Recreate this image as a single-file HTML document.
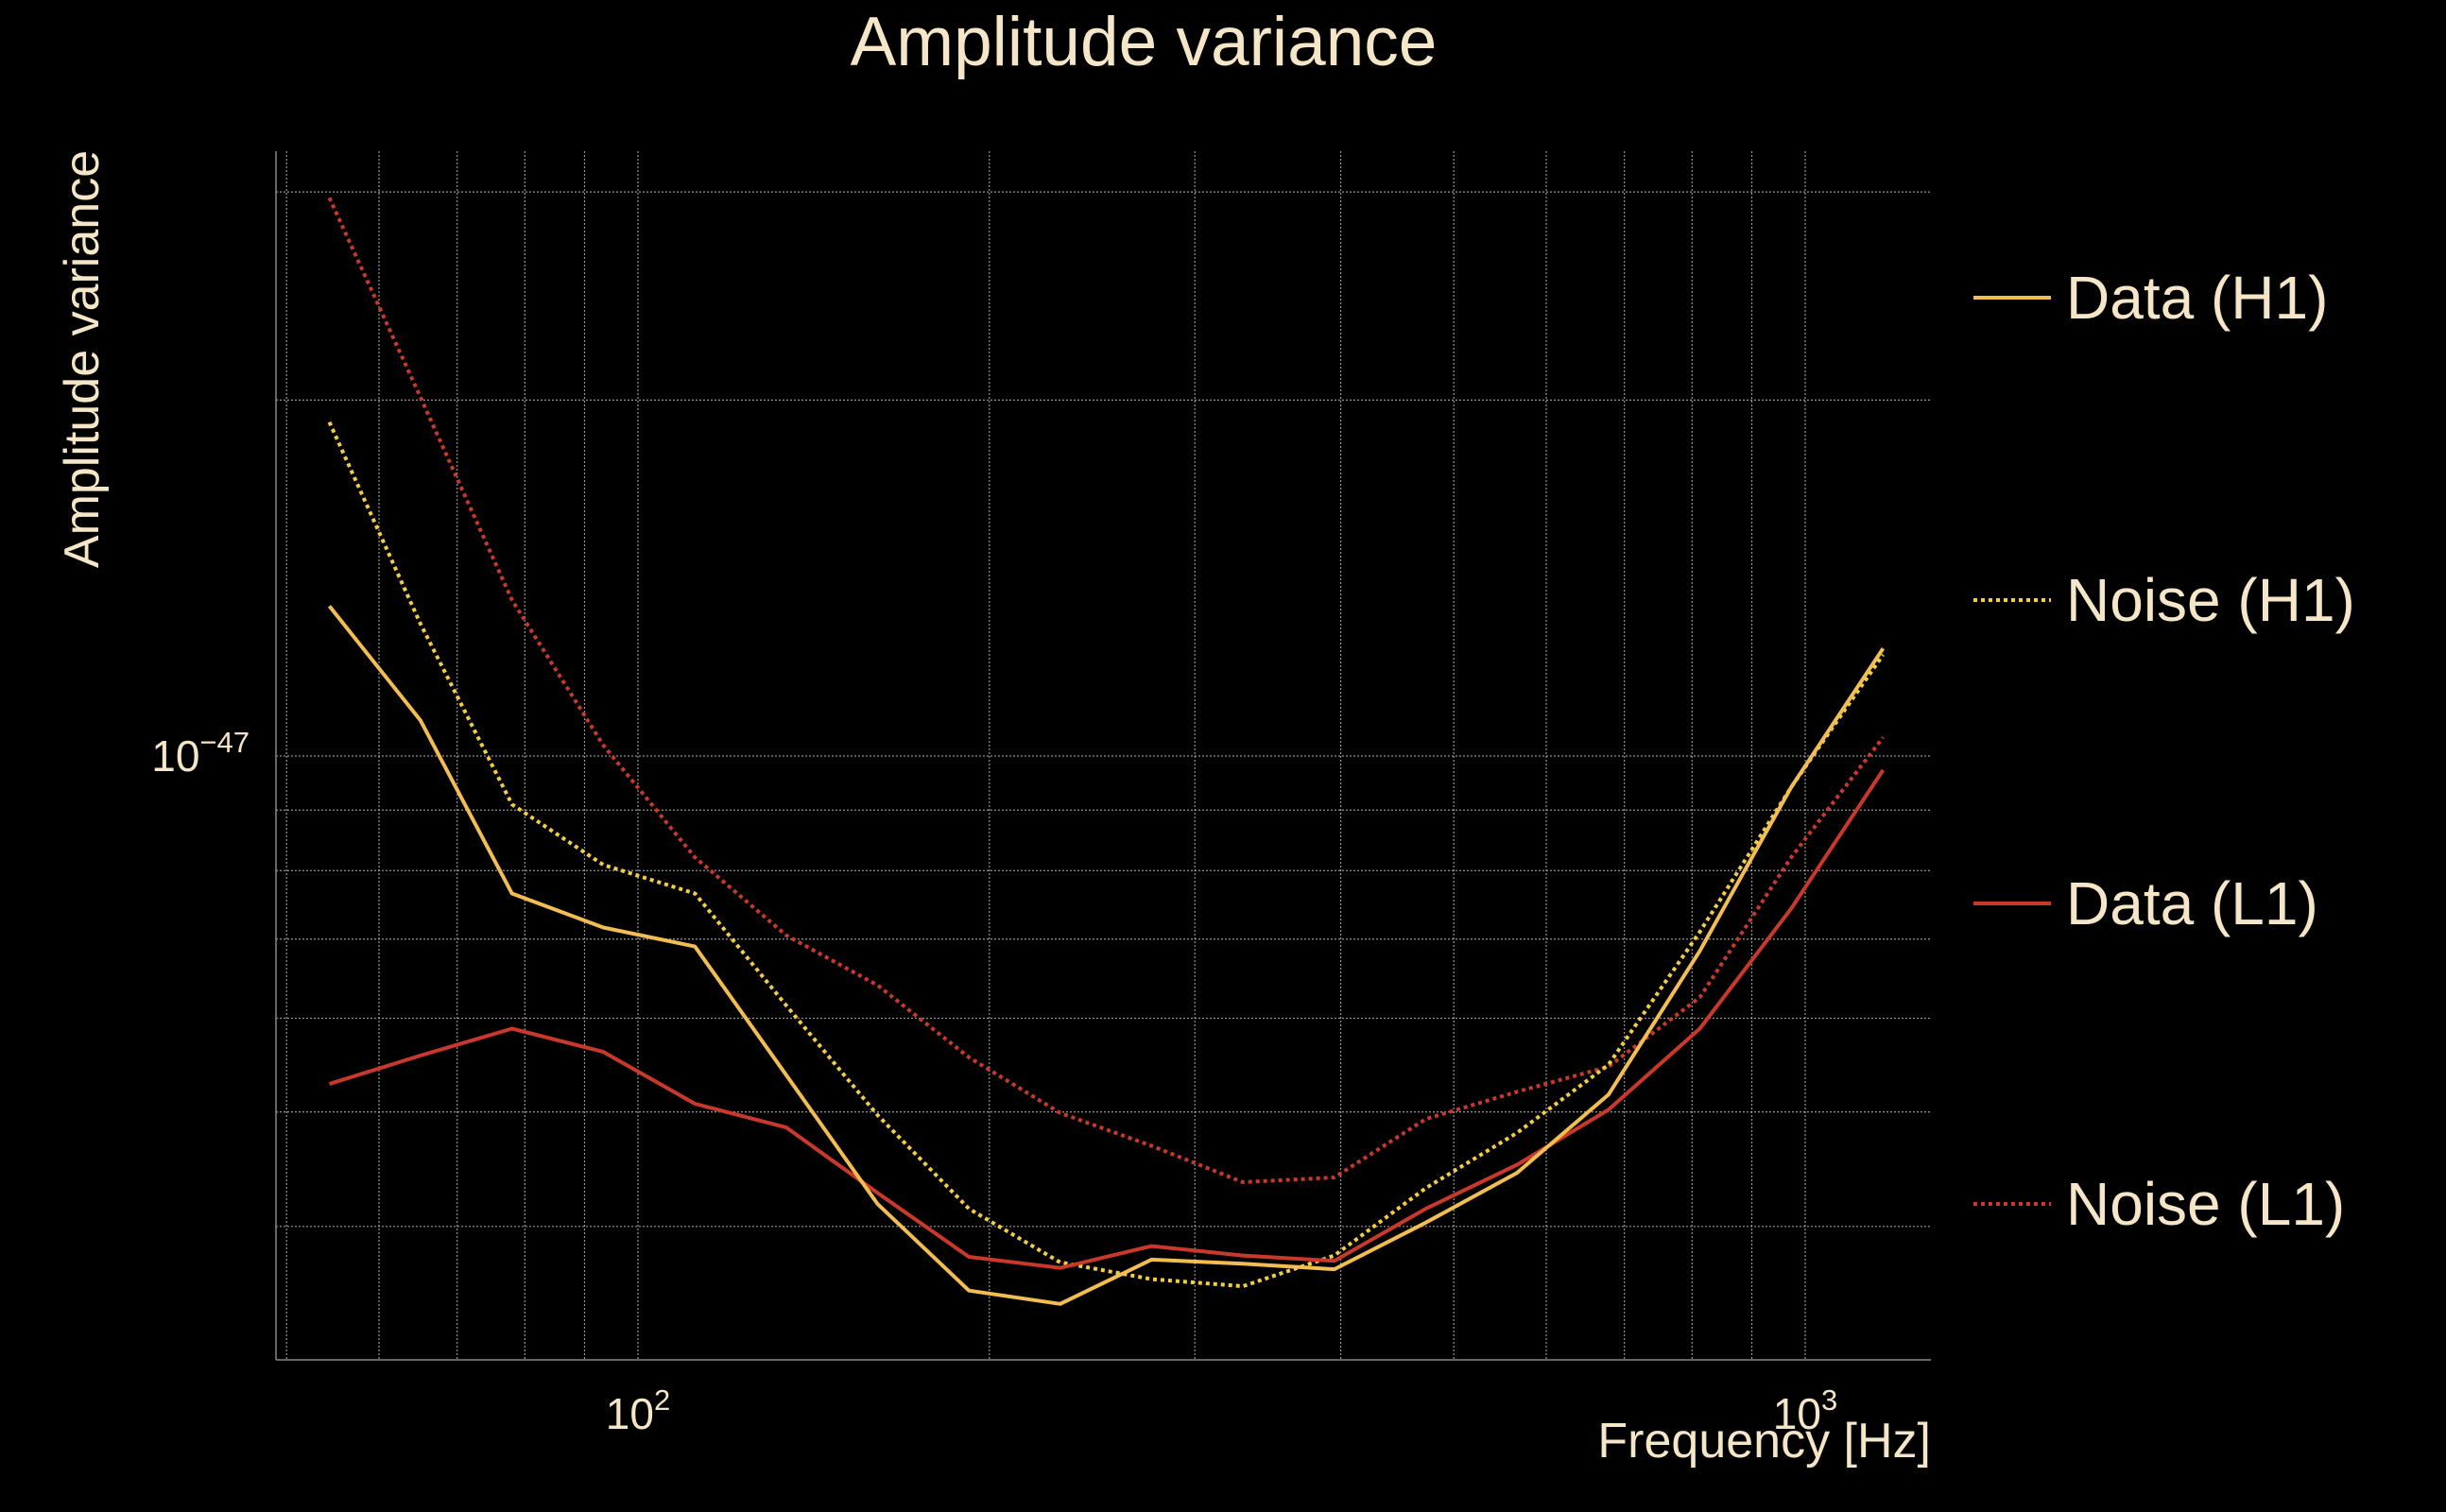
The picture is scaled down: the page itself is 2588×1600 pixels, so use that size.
<!DOCTYPE html>
<html><head><meta charset="utf-8">
<style>
html,body{margin:0;padding:0;background:#000;}
svg{display:block;font-family:"Liberation Sans","DejaVu Sans",sans-serif;}
</style></head>
<body>
<svg id="chart" width="2588" height="1600" viewBox="0 0 2588 1600">
<rect width="2588" height="1600" fill="#000"/>
<text x="1210" y="69" text-anchor="middle" font-size="73" fill="#f5e6c8">Amplitude variance</text>
<g id="grid"></g>
<g id="series"></g>
<g id="axes"></g>
<g id="legend"></g>
</svg>
<script>
const freqs = [54.4,65.1,78.0,93.4,111.9,134.0,160.4,192.1,230.0,275.4,329.8,395.0,473.0,566.4,678.3,812.3,972.7,1166];
const dataH1 = [13.39,10.72,7.65,7.16,6.90,5.37,4.18,3.53,3.44,3.75,3.72,3.68,4.03,4.44,5.17,6.84,9.41,12.33];
const noiseH1 = [19.16,12.94,9.10,8.09,7.65,6.15,4.97,4.14,3.73,3.61,3.56,3.78,4.31,4.80,5.48,7.10,9.41,12.18];
const dataL1 = [5.28,5.58,5.88,5.62,5.08,4.85,4.27,3.77,3.69,3.85,3.78,3.74,4.14,4.51,5.02,5.88,7.43,9.73];
const noiseL1 = [29.66,20.12,13.55,10.21,8.21,7.05,6.40,5.56,4.99,4.68,4.36,4.40,4.93,5.20,5.46,6.25,8.21,10.37];
const seriesNames = ["Data (H1)","Noise (H1)","Data (L1)","Noise (L1)"];
const xGridVals = [50,60,70,80,90,100,200,300,400,500,600,700,800,900,1000];
const yGridVals = [4,5,6,7,8,9,10,20,30];
const yUnit = 1e-48;

const NS="http://www.w3.org/2000/svg";
const L=292,R=2043,T=160,B=1439;
const X2=675, DX=1235;
const Y47=800, DY=1251;
function xs(f){return X2+(Math.log10(f)-2)*DX;}
function ys(v){return Y47-(Math.log10(v*yUnit)+47)*DY;}
function mk(tag,attrs,parent){const e=document.createElementNS(NS,tag);for(const k in attrs)e.setAttribute(k,attrs[k]);parent.appendChild(e);return e;}

const grid=document.getElementById('grid');
xGridVals.forEach(f=>{const x=xs(f);if(x<L||x>R)return;
  const l=mk('line',{x1:x,x2:x,y1:T,y2:B,stroke:'#bbb','stroke-width':1.2,'stroke-dasharray':'2,2',opacity:0.8},grid);
  
  
});
yGridVals.forEach(v=>{const y=ys(v);if(y<T||y>B)return;
  const l=mk('line',{x1:L,x2:R,y1:y,y2:y,stroke:'#bbb','stroke-width':1.2,'stroke-dasharray':'2,2',opacity:0.8},grid);
  
  
});

const axes=document.getElementById('axes');
const sp=mk('line',{x1:L,x2:L,y1:T,y2:B,stroke:'#888','stroke-width':1.5},axes);


const sb=mk('line',{x1:L,x2:R,y1:B,y2:B,stroke:'#888','stroke-width':1.5},axes);


[[100,'2'],[1000,'3']].forEach(([f,e])=>{
  const t=mk('text',{x:xs(f),y:1512,'text-anchor':'middle','font-size':46,fill:'#f5e6c8'},axes);
  
  
  t.innerHTML='10<tspan dy="-20" font-size="31">'+e+'</tspan>';
});
const yt=mk('text',{x:264,y:Y47+16,'text-anchor':'end','font-size':46,fill:'#f5e6c8'},axes);


yt.innerHTML='10<tspan dy="-20" font-size="31">−47</tspan>';
const xl=mk('text',{x:2043,y:1542,'text-anchor':'end','font-size':52,fill:'#f5e6c8'},axes);


xl.textContent='Frequency [Hz]';
const yl=mk('text',{x:0,y:0,'text-anchor':'middle','font-size':52,fill:'#f5e6c8',transform:'translate(104,380) rotate(-90)'},axes);


yl.textContent='Amplitude variance';

const sg=document.getElementById('series');
const styles=[{c:'#f2bd52',d:''},{c:'#f3cd45',d:'4,4'},{c:'#c8392b',d:''},{c:'#c8392b',d:'4,4'}];
const allSeries=[dataH1,noiseH1,dataL1,noiseL1];
const seriesIds=['line-data-h1','line-noise-h1','line-data-l1','line-noise-l1'];
const drawOrder=[3,1,2,0];
drawOrder.forEach(i=>{
  const pts=allSeries[i].map((v,k)=>xs(freqs[k]).toFixed(1)+','+ys(v).toFixed(1)).join(' ');
  const p=mk('polyline',{points:pts,fill:'none',stroke:styles[i].c,'stroke-width':4,'stroke-dasharray':styles[i].d,'stroke-linejoin':'round'},sg);
  
  
});

const lg=document.getElementById('legend');
const rowsY=[315,635,956,1274];
seriesNames.forEach((n,i)=>{
  const g=mk('g',{},lg);
  
  
  mk('line',{x1:2088,x2:2170,y1:rowsY[i],y2:rowsY[i],stroke:styles[i].c,'stroke-width':4,'stroke-dasharray':styles[i].d},g);
  const t=mk('text',{x:2186,y:rowsY[i]+22,'font-size':64,fill:'#f5e6c8'},g);
  t.textContent=n;
});
</script>
</body></html>
